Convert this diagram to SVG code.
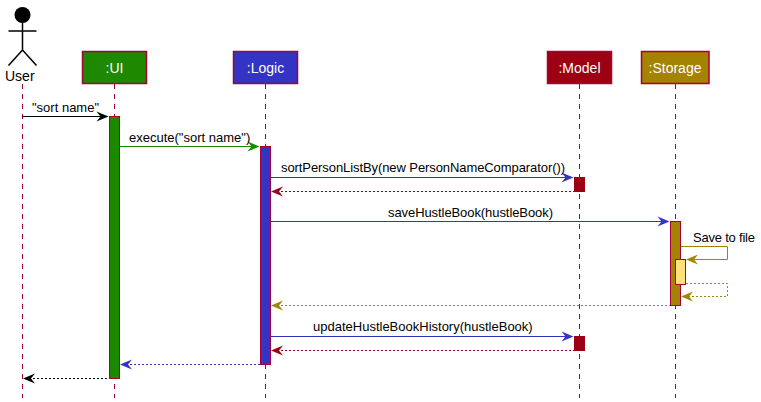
<svg xmlns="http://www.w3.org/2000/svg" width="761" height="402" viewBox="0 0 761 402">
<style>
text{font-family:"Liberation Sans",Arial,sans-serif;font-size:13px;fill:#000}
.t{font-size:14px;fill:#fff;text-anchor:middle}
.box{stroke:#A80036;stroke-width:1.5}
.life{stroke:#A80036;stroke-width:1;stroke-dasharray:5 5;fill:none}
.act{stroke:#A80036;stroke-width:1}
.m{fill:none;stroke-width:1}
.d{stroke-dasharray:2 2}
</style>
<defs>
<path id="ah" d="M0,0 L-12,-5 L-8,0 L-12,5 Z"/>
<path id="al" d="M0,0 L12,-5 L8,0 L12,5 Z"/>
</defs>
<g id="lifelines">
<line class="life" x1="22.5" y1="84" x2="22.5" y2="398"/>
<line class="life" x1="114.5" y1="84" x2="114.5" y2="398"/>
<line class="life" x1="265.5" y1="84" x2="265.5" y2="398"/>
<line class="life" x1="579.5" y1="84" x2="579.5" y2="398"/>
<line class="life" x1="675.5" y1="84" x2="675.5" y2="398"/>
</g>
<g id="user">
<circle cx="22.5" cy="15" r="8" fill="#000"/>
<path d="M22.5,23 V50 M8.5,31 H36.5 M22.5,50 L8.5,65.5 M22.5,50 L36.5,65.5" fill="none" stroke="#000" stroke-width="1.5"/>
<text x="5" y="81" style="font-size:14px">User</text>
</g>
<g id="ui">
<rect class="box" x="82.5" y="51.5" width="64" height="32" fill="#1D8900"/>
<text class="t" x="114.5" y="73">:UI</text>
<rect class="act" x="109.5" y="116.5" width="10" height="262" fill="#1D8900"/>
</g>
<g id="logic">
<rect class="box" x="233.5" y="51.5" width="64" height="32" fill="#3333C4"/>
<text class="t" x="265.5" y="73">:Logic</text>
<rect class="act" x="260.5" y="146.5" width="10" height="218" fill="#3333C4"/>
</g>
<g id="model">
<rect class="box" x="547.5" y="51.5" width="64" height="32" fill="#9D0012"/>
<text class="t" x="579.5" y="73">:Model</text>
<rect x="574" y="177" width="11" height="15" fill="#9D0012"/>
<rect x="574" y="336" width="11" height="15" fill="#9D0012"/>
</g>
<g id="storage">
<rect class="box" x="641.5" y="51.5" width="67.500" height="32" fill="#A38300"/>
<text class="t" x="675" y="73">:Storage</text>
<rect class="act" x="670.5" y="221.5" width="10" height="84" fill="#A38300"/>
<rect class="act" x="675.500" y="259.500" width="10" height="25" fill="#FFE07A"/>
</g>
<g id="connectors">
<line class="m" stroke="#000" x1="22.500" y1="116.500" x2="102" y2="116.500"/>
<use href="#ah" x="108.500" y="116.500" fill="#000"/>
<line class="m" stroke="#1D8900" x1="120" y1="146.500" x2="253" y2="146.500"/>
<use href="#ah" x="259.500" y="146.500" fill="#1D8900"/>
<line class="m" stroke="#3333C4" x1="271" y1="177.500" x2="567" y2="177.500"/>
<use href="#ah" x="573.500" y="177.500" fill="#3333C4"/>
<line class="m d" stroke="#9D0012" x1="277" y1="191.500" x2="574" y2="191.500"/>
<use href="#al" x="271" y="191.500" fill="#9D0012"/>
<line class="m" stroke="#3333C4" x1="271" y1="221.500" x2="663" y2="221.500"/>
<use href="#ah" x="669.500" y="221.500" fill="#3333C4"/>
<path class="m" stroke="#A38300" d="M681,246.500 H727.500 V259.500 H692"/>
<use href="#al" x="686" y="259.500" fill="#A38300"/>
<path class="m d" stroke="#A38300" d="M686,283.500 H727.500 V296.500 H687"/>
<use href="#al" x="681" y="296.500" fill="#A38300"/>
<line class="m d" stroke="#A38300" x1="277" y1="305.500" x2="670" y2="305.500"/>
<use href="#al" x="271" y="305.500" fill="#A38300"/>
<line class="m" stroke="#3333C4" x1="271" y1="336.500" x2="567" y2="336.500"/>
<use href="#ah" x="573.500" y="336.500" fill="#3333C4"/>
<line class="m d" stroke="#9D0012" x1="277" y1="350.500" x2="574" y2="350.500"/>
<use href="#al" x="271" y="350.500" fill="#9D0012"/>
<line class="m d" stroke="#3333C4" x1="126" y1="364.500" x2="260" y2="364.500"/>
<use href="#al" x="120" y="364.500" fill="#3333C4"/>
<line class="m d" stroke="#000" x1="29" y1="378.500" x2="109" y2="378.500"/>
<use href="#al" x="23" y="378.500" fill="#000"/>
<text x="32" y="112">"sort name"</text>
<text x="129" y="142">execute("sort name")</text>
<text x="281" y="172" textLength="284">sortPersonListBy(new PersonNameComparator())</text>
<text x="388" y="217" textLength="165">saveHustleBook(hustleBook)</text>
<text x="693" y="242" textLength="62">Save to file</text>
<text x="313" y="331">updateHustleBookHistory(hustleBook)</text>
</g>
</svg>
